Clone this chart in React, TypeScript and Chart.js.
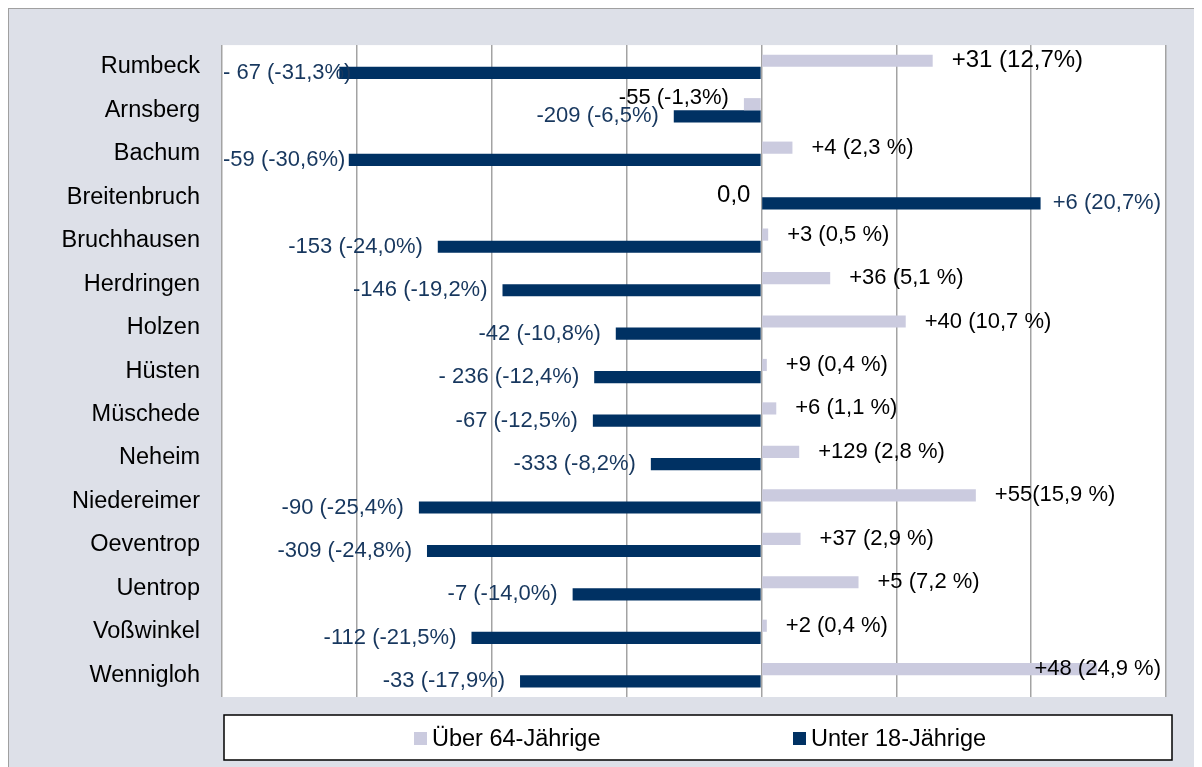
import React, { useEffect, useRef } from "react";
import { Chart, registerables } from "chart.js";

Chart.register(...registerables);

const categories = [
  "Rumbeck", "Arnsberg", "Bachum", "Breitenbruch", "Bruchhausen", "Herdringen", "Holzen",
  "Hüsten", "Müschede", "Neheim", "Niedereimer", "Oeventrop", "Uentrop", "Voßwinkel", "Wennigloh",
];
const ueber64 = [12.7, -1.3, 2.3, 0, 0.5, 5.1, 10.7, 0.4, 1.1, 2.8, 15.9, 2.9, 7.2, 0.4, 24.9];
const unter18 = [-31.3, -6.5, -30.6, 20.7, -24.0, -19.2, -10.8, -12.4, -12.5, -8.2, -25.4, -24.8, -14.0, -21.5, -17.9];
const ueber64Labels = [
  "+31 (12,7%)", "-55 (-1,3%)", "+4 (2,3 %)", "0,0", "+3 (0,5 %)", "+36 (5,1 %)", "+40 (10,7 %)",
  "+9 (0,4 %)", "+6 (1,1 %)", "+129 (2,8 %)", "+55(15,9 %)", "+37 (2,9 %)", "+5 (7,2 %)", "+2 (0,4 %)", "+48 (24,9 %)",
];
const unter18Labels = [
  "- 67 (-31,3%)", "-209 (-6,5%)", "-59 (-30,6%)", "+6 (20,7%)", "-153 (-24,0%)", "-146 (-19,2%)", "-42 (-10,8%)",
  "- 236 (-12,4%)", "-67 (-12,5%)", "-333 (-8,2%)", "-90 (-25,4%)", "-309 (-24,8%)", "-7 (-14,0%)", "-112 (-21,5%)", "-33 (-17,9%)",
];
const seriesNames = ["Über 64-Jährige", "Unter 18-Jährige"];
const xMin = -40;
const xMax = 30;
const xStep = 10;

const FONT = "'Liberation Sans', Arial, sans-serif";
const LIGHT = "#cbcbdf";
const DARK = "#003163";
const DARK_TEXT = "#17375e";

const plotBgPlugin = {
  id: "plotBg",
  beforeDraw(chart: any) {
    const { ctx, chartArea: a } = chart;
    ctx.save();
    ctx.fillStyle = "#ffffff";
    ctx.fillRect(a.left, a.top, a.right - a.left, a.bottom - a.top);
    ctx.restore();
  },
};

const labelPlugin = {
  id: "barLabels",
  afterDatasetsDraw(chart: any) {
    const ctx = chart.ctx;
    const area = chart.chartArea;
    const allLabels = [ueber64Labels, unter18Labels];
    ctx.save();
    chart.data.datasets.forEach((ds: any, di: number) => {
      const meta = chart.getDatasetMeta(di);
      meta.data.forEach((el: any, i: number) => {
        const v = ds.data[i];
        const text = allLabels[di][i];
        let size = 22;
        let y = el.y;
        if (v === 0) {
          size = 24;
          y += 4;
        } else if (v < 0 && di === 0) {
          y -= 6;
        } else if (di === 0 && i === 0) {
          size = 24;
        }
        ctx.font = `${size}px ${FONT}`;
        ctx.fillStyle = di === 0 ? "#000000" : DARK_TEXT;
        ctx.textBaseline = "middle";
        const w = ctx.measureText(text).width;
        let x;
        if (v > 0) {
          x = el.x + 19;
          if (x + w > area.right - 5) x = area.right - 5 - w;
        } else {
          x = el.x - (v === 0 ? 11 : 15) - w;
          if (x < area.left + 1) x = area.left + 1;
        }
        ctx.textAlign = "left";
        ctx.fillText(text, x, y);
      });
    });
    ctx.restore();
  },
};

const legendPlugin = {
  id: "boxLegend",
  afterDraw(chart: any) {
    const ctx = chart.ctx;
    const area = chart.chartArea;
    const left = area.left + 2;
    const right = area.right + 6;
    const top = area.bottom + 18;
    const bottom = area.bottom + 63;
    ctx.save();
    ctx.fillStyle = "#ffffff";
    ctx.fillRect(left, top, right - left, bottom - top);
    ctx.strokeStyle = "#000000";
    ctx.lineWidth = 1.5;
    ctx.strokeRect(left, top, right - left, bottom - top);
    const starts = [left + 190, left + 569];
    ctx.font = `23.5px ${FONT}`;
    ctx.textBaseline = "alphabetic";
    ctx.textAlign = "left";
    chart.data.datasets.forEach((ds: any, di: number) => {
      const sx = starts[di];
      ctx.fillStyle = ds.backgroundColor;
      ctx.fillRect(sx, top + 17, 13, 13);
      ctx.fillStyle = "#000000";
      ctx.fillText(ds.label, sx + 18, top + 31);
    });
    ctx.restore();
  },
};

export default function App() {
  const canvasRef = useRef<HTMLCanvasElement | null>(null);

  useEffect(() => {
    document.documentElement.style.overflow = "hidden";
    document.body.style.overflow = "hidden";
    const canvas = canvasRef.current;
    if (!canvas) return;
    const chart = new Chart(canvas, {
      type: "bar",
      data: {
        labels: categories,
        datasets: [
          {
            label: seriesNames[0],
            data: ueber64,
            backgroundColor: LIGHT,
            borderWidth: 0,
            categoryPercentage: 0.56,
            barPercentage: 1,
          },
          {
            label: seriesNames[1],
            data: unter18,
            backgroundColor: DARK,
            borderWidth: 0,
            categoryPercentage: 0.56,
            barPercentage: 1,
          },
        ],
      },
      options: {
        indexAxis: "y",
        animation: false,
        responsive: true,
        maintainAspectRatio: false,
        layout: { padding: { top: 35, right: 36, bottom: 70, left: 0 } },
        plugins: {
          legend: { display: false },
          tooltip: { enabled: false },
        },
        scales: {
          x: {
            min: xMin,
            max: xMax,
            ticks: { display: false, stepSize: xStep },
            grid: { color: "#a3a3a3", lineWidth: 1.5, drawTicks: false },
            border: { display: false },
            afterFit: (scale: any) => {
              scale.height = 0;
            },
          },
          y: {
            ticks: {
              color: "#000000",
              font: { family: FONT, size: 23.5 },
              padding: 22,
            },
            grid: { display: false, drawTicks: false },
            border: { display: false },
            afterFit: (scale: any) => {
              scale.width = 213;
            },
          },
        },
      },
      plugins: [plotBgPlugin, labelPlugin, legendPlugin],
    });
    return () => chart.destroy();
  }, []);

  return (
    <div
      style={{
        position: "relative",
        width: 1193,
        height: 758,
        borderTop: "1px solid #a0a0a0",
        borderLeft: "1px solid #a0a0a0",
        background: "#dde0e8",
      }}
    >
      <canvas ref={canvasRef} />
    </div>
  );
}
